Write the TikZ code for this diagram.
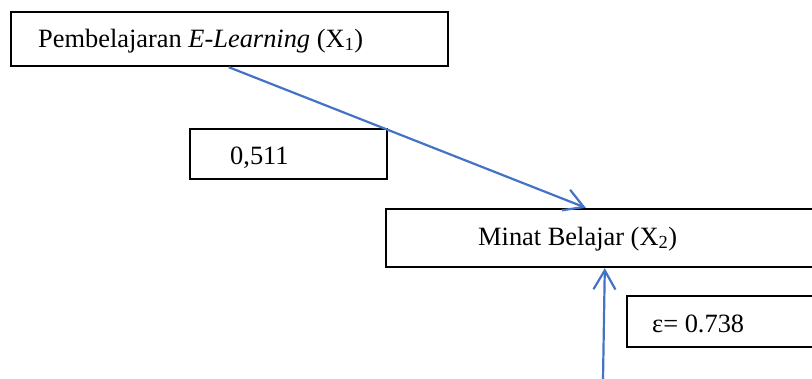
\documentclass[tikz,border=0pt]{standalone}
\usepackage{fontspec}
\setmainfont{Liberation Serif}
\usetikzlibrary{arrows.meta,calc}
\definecolor{arrowblue}{HTML}{4472C4}
\tikzset{
  mainbox/.style={draw=black,line width=2.4pt,rectangle,inner sep=0pt},
  valbox/.style={draw=black,line width=1.3pt,rectangle,inner sep=0pt},
  lbl/.style={anchor=base west,inner sep=0pt,font=\fontsize{26.4}{30}\selectfont},
  pathar/.style={draw=arrowblue,line width=2.2pt,-{Straight Barb[length=19pt,width=22pt,line width=2.2pt]}}
}
\begin{document}
\begin{tikzpicture}[x=1pt,y=-1pt]
\useasboundingbox (0,0) rectangle (812,378);
\clip (0,0) rectangle (812,378);
% boxes
\node[mainbox,minimum width=437pt,minimum height=54pt] (x1) at (229.5,39) {};
\node[valbox,minimum width=197pt,minimum height=50pt] (c1) at (288.5,154) {};
\node[mainbox,minimum width=444pt,minimum height=58pt] (x2) at (608,238) {};
\node[valbox,minimum width=220pt,minimum height=51pt] (eps) at (737,321.5) {};
% labels
\node[lbl] (tx1) at (38,47) {Pembelajaran \textit{E-Learning} (X\textsubscript{1})};
\node[lbl] (tc1) at (230,164) {0,511};
\node[lbl] (tx2) at (478,245) {Minat Belajar (X\textsubscript{2})};
\node[lbl] (teps) at (652,332) {ε= 0.738};
% connectors
\coordinate (e0) at (603,380);
\draw[pathar] ($(x1.south west)+(219,0)$) -- ($(x2.north west)+(201,0)$);
\draw[pathar] (e0) -- ($(x2.south west)+(220,0)$);
\end{tikzpicture}
\end{document}
